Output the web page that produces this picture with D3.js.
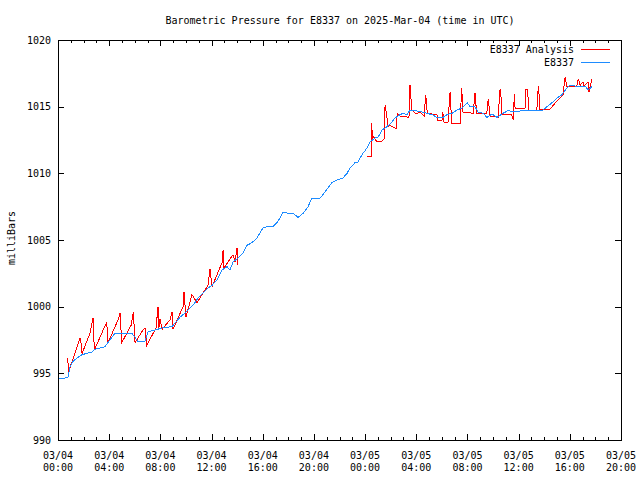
<!DOCTYPE html>
<html>
<head>
<meta charset="utf-8">
<script src="https://cdn.jsdelivr.net/npm/d3@7"></script>
<style>
  html, body { margin: 0; padding: 0; background: #fff; }
  svg { display: block; }
  text { font-family: "DejaVu Sans Mono", monospace; font-size: 10px; fill: #000; }
</style>
</head>
<body>
<svg id="chart" width="640" height="480"></svg>
<script>
// ---- Data (hours since 2025-03-04 00:00 UTC, pressure in mbar) ----
const stationName = "E8337";
const analysisName = "E8337 Analysis";
const titleText = "Barometric Pressure for E8337 on 2025-Mar-04 (time in UTC)";
const yLabelText = "milliBars";

const stationHours = [0.1,0.31,0.78,0.94,1.17,1.56,1.88,2.27,2.66,2.89,3.67,4.06,4.45,5.78,6.02,6.25,6.80,7.03,7.58,8.13,8.91,9.53,9.77,10.16,10.55,10.94,11.33,11.72,12.04,12.43,12.82,13.21,13.44,13.68,14.07,14.46,14.77,15.16,15.55,16.02,16.33,16.80,17.12,17.35,17.59,17.98,18.37,18.76,19.15,19.54,19.85,20.48,20.71,21.10,21.41,21.81,22.27,22.59,22.82,23.21,23.45,23.76,24.15,24.38,24.78,25.01,25.32,25.71,26.10,26.34,26.73,26.96,27.28,27.51,27.90,28.45,28.84,29.23,29.62,30.01,30.40,30.79,31.18,31.57,31.97,32.20,32.59,32.83,33.22,33.53,33.92,34.31,34.78,35.17,35.72,36.26,36.73,37.28,37.83,38.22,38.61,39.00,39.39,39.78,40.02,40.41,40.80,41.19,41.42,41.74];
const stationValues = [994.6,994.6,994.7,995.5,995.9,996.2,996.4,996.5,996.6,996.8,997.0,997.5,998.0,998.0,997.7,997.4,997.4,998.1,998.25,998.4,998.5,999.2,999.4,999.75,1000.1,1000.65,1001.0,1001.4,1001.6,1002.0,1002.75,1003.0,1002.75,1003.35,1003.65,1004.0,1004.6,1004.8,1005.15,1005.9,1006.0,1006.0,1006.3,1006.65,1007.1,1007.0,1007.0,1006.7,1007.0,1007.5,1008.15,1008.15,1008.4,1008.9,1009.3,1009.5,1009.65,1010.0,1010.4,1010.8,1010.85,1011.4,1011.9,1012.35,1012.65,1012.7,1013.25,1013.5,1013.85,1014.15,1014.4,1014.5,1014.4,1014.75,1014.7,1014.6,1014.5,1014.4,1014.2,1014.15,1014.4,1014.5,1014.75,1014.9,1015.3,1015.0,1015.0,1014.6,1014.5,1014.2,1014.45,1014.2,1014.5,1014.7,1014.6,1014.7,1014.75,1014.7,1014.7,1015.0,1015.3,1015.65,1015.9,1016.4,1016.6,1016.55,1016.5,1016.55,1016.25,1016.5];

// Analysis has a gap (null) between the two segments
const analysisHours = [0.76,0.82,1.72,1.80,1.88,2.50,2.74,2.84,3.60,3.81,3.91,4.69,4.85,4.98,5.71,5.89,6.02,6.64,6.80,6.93,7.66,7.82,7.89,7.97,8.13,8.75,8.91,8.99,9.77,9.85,10.00,10.47,10.86,11.72,11.88,12.04,12.82,12.90,12.97,13.68,13.83,13.99,14.03,
  20.0,
  24.13,24.52,24.52,24.57,24.64,24.91,25.30,25.50,25.56,25.69,25.77,25.95,26.34,26.47,26.50,26.73,27.43,27.51,27.65,27.98,28.29,28.61,28.74,28.86,29.62,29.66,30.01,30.07,30.17,30.48,30.64,30.77,31.42,31.55,31.65,32.44,32.59,32.72,33.51,33.63,33.76,34.39,34.55,34.68,34.70,35.46,35.59,35.66,35.72,36.50,36.56,36.71,36.77,37.42,37.54,37.63,37.67,38.45,38.92,39.47,39.63,39.76,40.54,40.67,40.80,41.03,41.11,41.42,41.50,41.71];
const analysisValues = [996.15,995.1,997.65,997.3,996.5,998.0,999.15,996.75,998.4,998.8,997.3,999.0,999.5,997.3,998.6,999.6,997.3,998.25,998.4,997.1,998.4,1000.0,998.4,999.1,998.3,999.0,999.6,998.3,1000.0,1001.1,999.2,1000.9,1000.3,1001.6,1002.8,1001.5,1003.3,1004.25,1002.9,1003.9,1003.35,1004.4,1003.1,
  null,
  1011.25,1011.25,1013.75,1012.6,1012.75,1012.4,1012.4,1012.6,1015.1,1014.4,1013.5,1013.6,1013.4,1013.4,1014.5,1014.3,1014.2,1016.6,1014.75,1014.45,1014.6,1014.3,1015.9,1014.5,1014.4,1014.0,1014.0,1014.6,1013.8,1013.8,1016.1,1013.75,1013.75,1016.4,1014.6,1014.5,1016.0,1014.5,1014.5,1015.6,1014.3,1014.2,1016.3,1015.3,1014.4,1014.4,1014.0,1015.95,1014.9,1014.9,1016.3,1016.3,1014.75,1014.75,1016.55,1015.5,1014.75,1014.8,1015.35,1015.9,1017.2,1016.55,1016.55,1017.1,1016.6,1016.85,1016.55,1016.85,1016.1,1017.05];

const yTicks = [990, 995, 1000, 1005, 1010, 1015, 1020];
const xTickHours = [0, 4, 8, 12, 16, 20, 24, 28, 32, 36, 40, 44];
const startUTC = Date.UTC(2025, 2, 4, 0, 0);

// ---- Layout ----
const W = 640, H = 480;
const m = { left: 58, right: 19, top: 40, bottom: 40 };
const svg = d3.select("#chart");
const toDate = h => new Date(startUTC + h * 3600000);

const x = d3.scaleUtc()
  .domain([toDate(0), toDate(44)])
  .range([m.left, W - m.right]);
const y = d3.scaleLinear()
  .domain([990, 1020])
  .range([H - m.bottom, m.top]);

const majorDates = xTickHours.map(toDate);
const minorDates = d3.range(0, 45, 1).filter(h => h % 4 !== 0).map(toDate);

function clean(g) { g.select(".domain").remove(); g.selectAll("line").attr("stroke", "#000").attr("shape-rendering", "crispEdges"); }

// bottom axis
svg.append("g").attr("transform", `translate(0,${H - m.bottom})`)
  .call(d3.axisBottom(x).tickValues(majorDates).tickSize(-6).tickFormat(() => "")).call(clean);
svg.append("g").attr("transform", `translate(0,${H - m.bottom})`)
  .call(d3.axisBottom(x).tickValues(minorDates).tickSize(-3).tickFormat(() => "")).call(clean);
// top axis (mirror)
svg.append("g").attr("transform", `translate(0,${m.top})`)
  .call(d3.axisTop(x).tickValues(majorDates).tickSize(-6).tickFormat(() => "")).call(clean);
svg.append("g").attr("transform", `translate(0,${m.top})`)
  .call(d3.axisTop(x).tickValues(minorDates).tickSize(-3).tickFormat(() => "")).call(clean);
// left axis
const ly = svg.append("g").attr("transform", `translate(${m.left},0)`)
  .call(d3.axisLeft(y).tickValues(yTicks).tickSize(-6).tickPadding(7).tickFormat(d3.format("d"))).call(clean);
ly.selectAll("text").attr("font-family", null).attr("font-size", null).attr("fill", "#000");
// right axis (mirror)
svg.append("g").attr("transform", `translate(${W - m.right},0)`)
  .call(d3.axisRight(y).tickValues(yTicks).tickSize(-6).tickFormat(() => "")).call(clean);

// x labels, two lines
const fmtDay = d3.utcFormat("%m/%d"), fmtTime = d3.utcFormat("%H:%M");
const xl = svg.append("g");
majorDates.forEach(d => {
  const t = xl.append("text").attr("text-anchor", "middle").attr("x", x(d));
  t.append("tspan").attr("x", x(d)).attr("y", 459).text(fmtDay(d));
  t.append("tspan").attr("x", x(d)).attr("y", 471).text(fmtTime(d));
});

// frame
svg.append("rect")
  .attr("x", m.left).attr("y", m.top)
  .attr("width", W - m.left - m.right).attr("height", H - m.top - m.bottom)
  .attr("fill", "none").attr("stroke", "#000").attr("shape-rendering", "crispEdges");

// data lines
const line = d3.line()
  .defined(d => d[1] != null)
  .x(d => x(toDate(d[0])))
  .y(d => y(d[1]));

const analysis = analysisHours.map((h, i) => [h, analysisValues[i]]);
const station = stationHours.map((h, i) => [h, stationValues[i]]);

svg.append("path").datum(analysis)
  .attr("fill", "none").attr("stroke", "#ff0000").attr("stroke-width", 1)
  .attr("shape-rendering", "crispEdges")
  .attr("d", line);
svg.append("path").datum(station)
  .attr("fill", "none").attr("stroke", "#1e8cff").attr("stroke-width", 1)
  .attr("shape-rendering", "crispEdges")
  .attr("d", line);

// title
svg.append("text").attr("x", 340).attr("y", 24).attr("text-anchor", "middle").text(titleText);
// y label
svg.append("text").attr("transform", "translate(15,238) rotate(-90)").attr("text-anchor", "middle").text(yLabelText);

// legend
const legend = [
  { name: analysisName, color: "#ff0000", yy: 49.5 },
  { name: stationName, color: "#1e8cff", yy: 62.5 }
];
legend.forEach(l => {
  svg.append("text").attr("x", 574).attr("y", l.yy + 3.5).attr("text-anchor", "end").text(l.name);
  svg.append("line").attr("x1", 581).attr("x2", 610).attr("y1", l.yy).attr("y2", l.yy)
    .attr("stroke", l.color).attr("stroke-width", 1).attr("shape-rendering", "crispEdges");
});
</script>
</body>
</html>
